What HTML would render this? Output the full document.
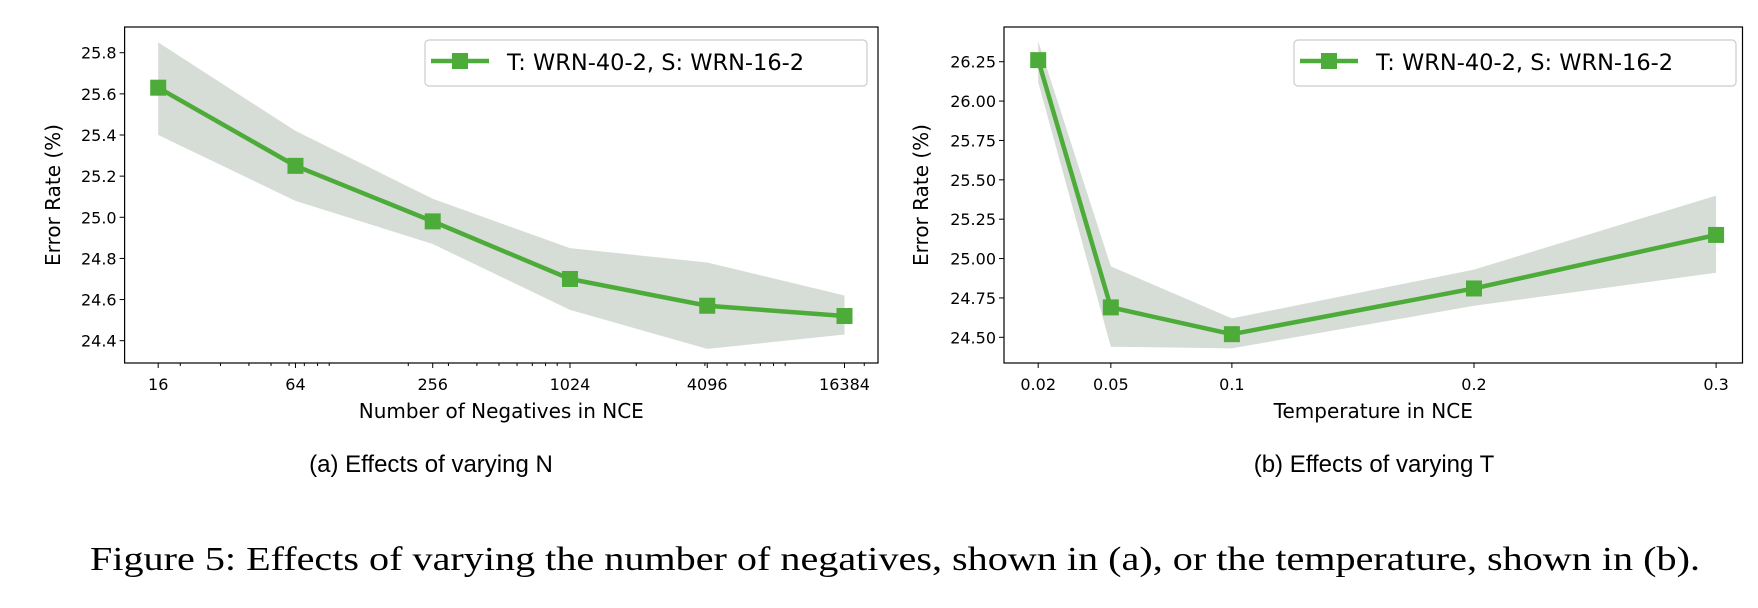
<!DOCTYPE html>
<html><head><meta charset="utf-8"><style>
body{margin:0;background:#fff;}
svg{display:block;}
.tk{font-family:"DejaVu Sans",sans-serif;font-size:16px;fill:#000;}
.al{font-family:"DejaVu Sans",sans-serif;font-size:20px;fill:#000;}
.lg{font-family:"DejaVu Sans",sans-serif;font-size:22.5px;fill:#000;}
.sc{font-family:"Liberation Sans",sans-serif;font-size:24px;fill:#000;}
.cap{font-family:"Liberation Serif","Times New Roman",serif;font-size:34px;fill:#000;}
</style></head><body>
<svg id="fig" width="1758" height="608">
<text class="sc" x="431" y="472" text-anchor="middle">(a) Effects of varying N</text>
<text class="sc" x="1374" y="472" text-anchor="middle">(b) Effects of varying T</text>
<text class="cap" x="90" y="570" textLength="1610" lengthAdjust="spacingAndGlyphs">Figure 5:  Effects of varying the number of negatives, shown in (a), or the temperature, shown in (b).</text>
</svg>
<script>
// Chart A data
const catsA=[16,64,256,1024,4096,16384];
const valsA=[25.63,25.25,24.98,24.70,24.57,24.52];
const upA=[25.85,25.42,25.09,24.85,24.78,24.62];
const loA=[25.40,25.08,24.87,24.55,24.36,24.43];
const yticksA=["24.4","24.6","24.8","25.0","25.2","25.4","25.6","25.8"];
// Chart B data
const catsB=[0.02,0.05,0.1,0.2,0.3];
const valsB=[26.26,24.69,24.52,24.81,25.15];
const upB=[26.38,24.95,24.62,24.93,25.40];
const loB=[26.12,24.44,24.43,24.70,24.91];
const yticksB=["24.50","24.75","25.00","25.25","25.50","25.75","26.00","26.25"];
const xticksB=["0.02","0.05","0.1","0.2","0.3"];

const NS="http://www.w3.org/2000/svg";
const svg=document.getElementById('fig');
function mk(tag,attrs,parent){const e=document.createElementNS(NS,tag);for(const k in attrs)e.setAttribute(k,attrs[k]);(parent||svg).appendChild(e);return e;}

function drawChart(o){
  const g=mk('g',{});
  
  
  const L=o.L,R=o.R,T=27,B=363;
  let pts=o.cats.map((c,i)=>o.sx(c)+','+o.sy(o.up[i]));
  pts=pts.concat(o.cats.map((c,i)=>o.sx(c)+','+o.sy(o.lo[i])).reverse());
  const band=mk('polygon',{points:pts.join(' '),fill:'#d6dcd6'},g);
  
  
  const line=mk('polyline',{points:o.cats.map((c,i)=>o.sx(c)+','+o.sy(o.vals[i])).join(' '),fill:'none',stroke:'#4dab3a','stroke-width':4.5},g);
  
  
  o.cats.forEach((c,i)=>{
    const m=mk('rect',{x:o.sx(c)-8,y:o.sy(o.vals[i])-8,width:16,height:16,fill:'#4dab3a'},g);
    
    
  });
  const fr=mk('rect',{x:L,y:T,width:R-L,height:B-T,fill:'none',stroke:'#000','stroke-width':1.2},g);
  
  
  o.yticks.forEach(t=>{
    const y=o.sy(parseFloat(t));
    mk('line',{x1:L-5,x2:L,y1:y,y2:y,stroke:'#000'},g);
    const tx=mk('text',{x:L-8,y:y+6,'text-anchor':'end',class:'tk'},g);
    tx.textContent=t;
    
    
  });
  o.xticks.forEach((t,i)=>{
    const x=o.sx(o.cats[i]);
    mk('line',{x1:x,x2:x,y1:B,y2:B+5,stroke:'#000'},g);
    const tx=mk('text',{x:x,y:B+27,'text-anchor':'middle',class:'tk'},g);
    tx.textContent=t;
    
    
  });
  (o.minor||[]).forEach(v=>{const x=o.sx(v);if(x>L&&x<R)mk('line',{x1:x,x2:x,y1:B,y2:B+3,stroke:'#000'},g);});
  const yl=mk('text',{x:0,y:0,transform:`translate(${o.ylx},${(T+B)/2}) rotate(-90)`,'text-anchor':'middle',class:'al'},g);
  yl.textContent='Error Rate (%)';
  
  
  const xl=mk('text',{x:(L+R)/2,y:418,'text-anchor':'middle',class:'al'},g);
  xl.textContent=o.xlabel;
  
  
  const lg=mk('g',{},g);
  
  
  mk('rect',{x:o.lgx,y:40,width:442,height:46,rx:4,fill:'#fff',stroke:'#ccc','stroke-width':1.2},lg);
  mk('line',{x1:o.lgx+6,x2:o.lgx+64,y1:61,y2:61,stroke:'#4dab3a','stroke-width':4.5},lg);
  mk('rect',{x:o.lgx+27,y:53,width:16,height:16,fill:'#4dab3a'},lg);
  const lt=mk('text',{x:o.lgx+82,y:70,class:'lg'},lg);
  lt.textContent='T: WRN-40-2, S: WRN-16-2';
  
  
}
const sxA=v=>158.2+(Math.log2(v)-4)/10*(844.5-158.2);
const syA=v=>340.7-(v-24.4)/0.2*41.14;
const minor=[];
for(let p=1;p<=4;p++)for(let k=2;k<=9;k++)minor.push(k*Math.pow(10,p));
drawChart({name:'chart-a',L:124.6,R:878,sx:sxA,sy:syA,cats:catsA,vals:valsA,up:upA,lo:loA,yticks:yticksA,xticks:catsA.map(String),minor:minor,ylx:60,xlabel:'Number of Negatives in NCE',lgx:425});
const sxB=v=>1038.2+(v-0.02)/0.28*(1716.1-1038.2);
const syB=v=>337.3-(v-24.5)/0.25*39.37;
drawChart({name:'chart-b',L:1004,R:1742.5,sx:sxB,sy:syB,cats:catsB,vals:valsB,up:upB,lo:loB,yticks:yticksB,xticks:xticksB,ylx:928,xlabel:'Temperature in NCE',lgx:1294});
</script>
</body></html>
